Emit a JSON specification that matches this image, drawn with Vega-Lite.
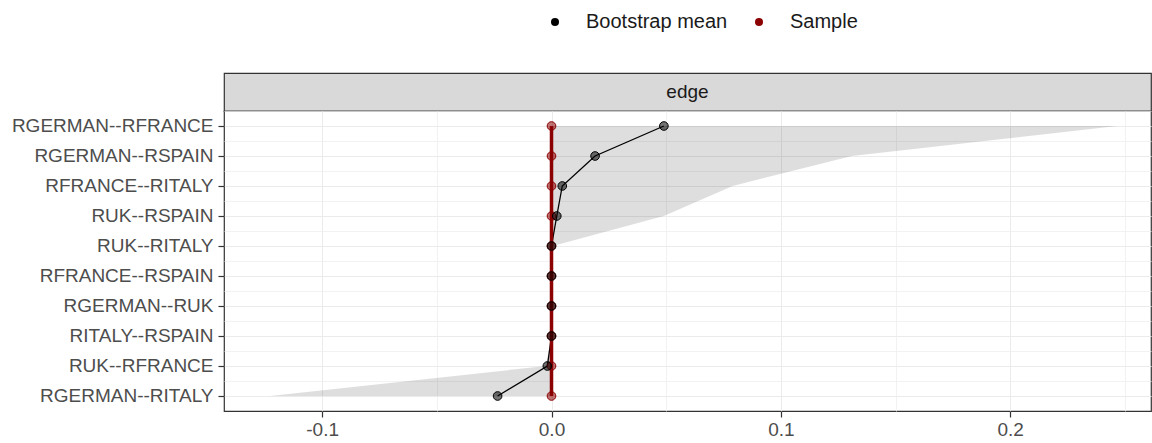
{
  "$schema": "https://vega.github.io/schema/vega-lite/v6.json",
  "padding": {"left": 10, "top": 12, "right": 0, "bottom": 0},
  "background": "white",
  "config": {"font": "Liberation Sans"},
  "spacing": 0,
  "bounds": "flush",
  "vconcat": [
    {
      "width": 927,
      "height": 38,
      "data": {"values": [{"panel": "edge"}]},
      "view": {"fill": "#D9D9D9", "stroke": "#333333", "strokeWidth": 1.2},
      "mark": {"type": "text", "fontSize": 19, "color": "#1A1A1A", "baseline": "middle", "align": "center"},
      "encoding": {"text": {"field": "panel", "type": "nominal"}}
    },
    {
      "width": 927,
      "height": 300,
      "view": {"stroke": "#333333", "strokeWidth": 1.2},
      "data": {
        "values": [
          {"edge": "RGERMAN--RFRANCE", "sample": 0, "mean": 0.049, "lower": 0, "upper": 0.2466},
          {"edge": "RGERMAN--RSPAIN", "sample": 0, "mean": 0.019, "lower": 0, "upper": 0.131},
          {"edge": "RFRANCE--RITALY", "sample": 0, "mean": 0.0047, "lower": 0, "upper": 0.079},
          {"edge": "RUK--RSPAIN", "sample": 0, "mean": 0.0023, "lower": 0, "upper": 0.049},
          {"edge": "RUK--RITALY", "sample": 0, "mean": 0.0, "lower": 0, "upper": 0.0005},
          {"edge": "RFRANCE--RSPAIN", "sample": 0, "mean": 0.0, "lower": 0, "upper": 0},
          {"edge": "RGERMAN--RUK", "sample": 0, "mean": 0.0, "lower": 0, "upper": 0},
          {"edge": "RITALY--RSPAIN", "sample": 0, "mean": 0.0, "lower": 0, "upper": 0},
          {"edge": "RUK--RFRANCE", "sample": 0, "mean": -0.0018, "lower": -0.0025, "upper": 0},
          {"edge": "RGERMAN--RITALY", "sample": 0, "mean": -0.0235, "lower": -0.1228, "upper": 0}
        ]
      },
      "resolve": {"axis": {"x": "independent", "y": "independent"}},
      "layer": [
        {
          "mark": {"type": "area", "orient": "horizontal", "color": "#000000", "opacity": 0.13},
          "encoding": {
            "y": {
              "field": "edge", "type": "nominal",
              "sort": ["RGERMAN--RFRANCE", "RGERMAN--RSPAIN", "RFRANCE--RITALY", "RUK--RSPAIN", "RUK--RITALY", "RFRANCE--RSPAIN", "RGERMAN--RUK", "RITALY--RSPAIN", "RUK--RFRANCE", "RGERMAN--RITALY"],
              "scale": {"type": "band", "paddingInner": 0, "paddingOuter": 0},
              "axis": {"orient": "left", "title": null, "grid": true, "gridColor": "#EBEBEB", "gridWidth": 1, "labelFontSize": 19, "labelColor": "#4D4D4D", "labelPadding": 5, "labelLimit": 400, "tickColor": "#333333", "tickSize": 6, "tickWidth": 1.2, "domain": false}
            },
            "x": {
              "field": "lower", "type": "quantitative",
              "scale": {"domain": [-0.1428, 0.2614], "nice": false, "zero": false},
              "axis": {"orient": "bottom", "title": null, "values": [-0.1, 0, 0.1, 0.2], "format": ".1f", "labelExpr": "replace(datum.label, '−', '-')", "grid": true, "gridColor": "#EBEBEB", "gridWidth": 1, "labelFontSize": 19, "labelColor": "#4D4D4D", "labelPadding": 3, "tickColor": "#333333", "tickSize": 6, "tickWidth": 1.2, "domain": false}
            },
            "x2": {"field": "upper"}
          }
        },
        {
          "mark": {"type": "line", "color": "#000000", "strokeWidth": 1.3},
          "encoding": {
            "y": {
              "field": "edge", "type": "nominal",
              "sort": ["RGERMAN--RFRANCE", "RGERMAN--RSPAIN", "RFRANCE--RITALY", "RUK--RSPAIN", "RUK--RITALY", "RFRANCE--RSPAIN", "RGERMAN--RUK", "RITALY--RSPAIN", "RUK--RFRANCE", "RGERMAN--RITALY"],
              "scale": {"type": "band", "paddingInner": 0, "paddingOuter": 0},
              "axis": {"orient": "right", "bandPosition": 0, "title": null, "grid": true, "gridColor": "#EFEFEF", "gridWidth": 0.8, "labels": false, "ticks": false, "domain": false}
            },
            "x": {
              "field": "mean", "type": "quantitative",
              "scale": {"domain": [-0.1428, 0.2614], "nice": false, "zero": false},
              "axis": {"orient": "top", "title": null, "values": [-0.05, 0.05, 0.15, 0.25], "grid": true, "gridColor": "#EFEFEF", "gridWidth": 0.8, "labels": false, "ticks": false, "domain": false}
            },
            "order": {"value": null}
          }
        },
        {
          "mark": {"type": "line", "color": "#8B0000", "strokeWidth": 3.5},
          "encoding": {
            "y": {
              "field": "edge", "type": "nominal",
              "sort": ["RGERMAN--RFRANCE", "RGERMAN--RSPAIN", "RFRANCE--RITALY", "RUK--RSPAIN", "RUK--RITALY", "RFRANCE--RSPAIN", "RGERMAN--RUK", "RITALY--RSPAIN", "RUK--RFRANCE", "RGERMAN--RITALY"],
              "scale": {"type": "band", "paddingInner": 0, "paddingOuter": 0},
              "axis": null
            },
            "x": {
              "field": "sample", "type": "quantitative",
              "scale": {"domain": [-0.1428, 0.2614], "nice": false, "zero": false},
              "axis": null
            },
            "order": {"value": null}
          }
        },
        {
          "mark": {"type": "point", "filled": true, "size": 75, "fillOpacity": 0.55, "stroke": "#8B0000", "strokeWidth": 1},
          "encoding": {
            "y": {
              "field": "edge", "type": "nominal",
              "sort": ["RGERMAN--RFRANCE", "RGERMAN--RSPAIN", "RFRANCE--RITALY", "RUK--RSPAIN", "RUK--RITALY", "RFRANCE--RSPAIN", "RGERMAN--RUK", "RITALY--RSPAIN", "RUK--RFRANCE", "RGERMAN--RITALY"],
              "scale": {"type": "band", "paddingInner": 0, "paddingOuter": 0},
              "axis": null
            },
            "x": {
              "field": "sample", "type": "quantitative",
              "scale": {"domain": [-0.1428, 0.2614], "nice": false, "zero": false},
              "axis": null
            },
            "color": {
              "datum": "Sample",
              "scale": {"domain": ["Bootstrap mean", "Sample"], "range": ["#000000", "#8B0000"]},
              "legend": {"orient": "none", "legendX": 321, "legendY": -61, "direction": "horizontal", "title": null, "padding": 0, "labelFontSize": 20, "labelColor": "#1A1A1A", "symbolType": "circle", "symbolSize": 64, "symbolOpacity": 1, "symbolStrokeWidth": 0, "labelOffset": 21, "columnPadding": 21}
            }
          }
        },
        {
          "mark": {"type": "point", "filled": true, "size": 75, "fillOpacity": 0.55, "stroke": "#000000", "strokeWidth": 1},
          "encoding": {
            "y": {
              "field": "edge", "type": "nominal",
              "sort": ["RGERMAN--RFRANCE", "RGERMAN--RSPAIN", "RFRANCE--RITALY", "RUK--RSPAIN", "RUK--RITALY", "RFRANCE--RSPAIN", "RGERMAN--RUK", "RITALY--RSPAIN", "RUK--RFRANCE", "RGERMAN--RITALY"],
              "scale": {"type": "band", "paddingInner": 0, "paddingOuter": 0},
              "axis": null
            },
            "x": {
              "field": "mean", "type": "quantitative",
              "scale": {"domain": [-0.1428, 0.2614], "nice": false, "zero": false},
              "axis": null
            },
            "color": {
              "datum": "Bootstrap mean",
              "scale": {"domain": ["Bootstrap mean", "Sample"], "range": ["#000000", "#8B0000"]},
              "legend": {"orient": "none", "legendX": 321, "legendY": -61, "direction": "horizontal", "title": null, "padding": 0, "labelFontSize": 20, "labelColor": "#1A1A1A", "symbolType": "circle", "symbolSize": 64, "symbolOpacity": 1, "symbolStrokeWidth": 0, "labelOffset": 21, "columnPadding": 21}
            }
          }
        }
      ]
    }
  ]
}
